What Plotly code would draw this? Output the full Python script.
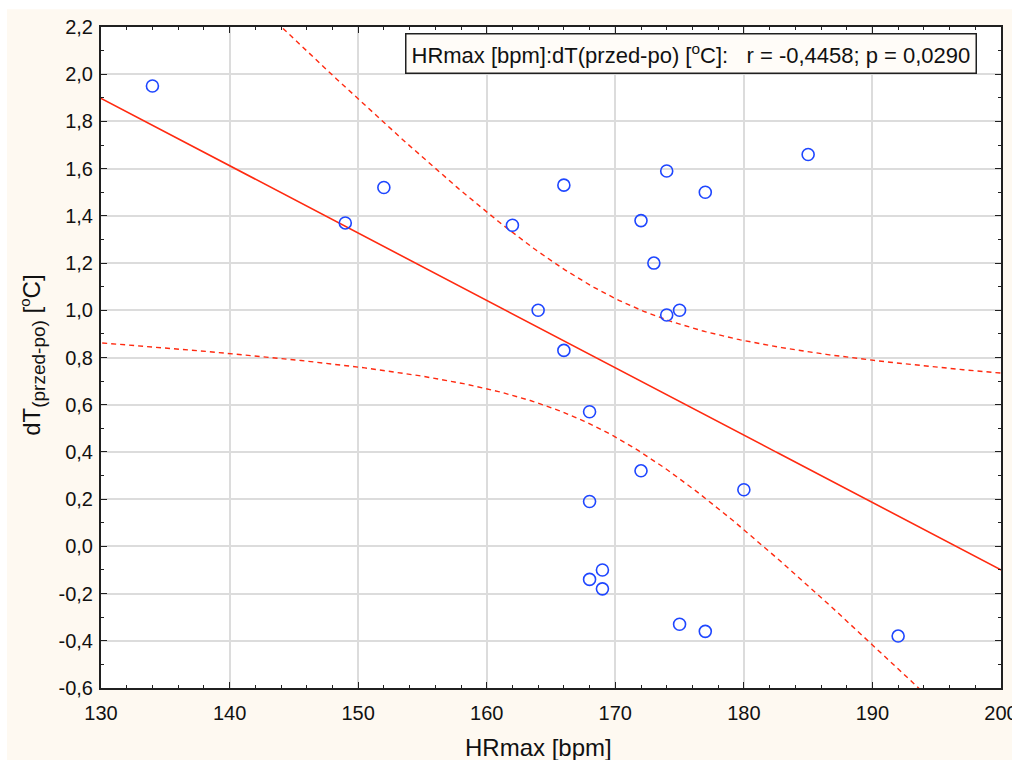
import numpy as np
import plotly.graph_objects as go

# Heart-rate maximum [bpm] and temperature drop dT (before - after) [°C]
hr_max = [134, 149, 152, 162, 164, 166, 166, 168, 168, 168, 169, 169,
          172, 172, 173, 174, 174, 175, 175, 177, 177, 180, 185, 192]
dt_drop = [1.95, 1.37, 1.52, 1.36, 1.00, 1.53, 0.83, 0.57, 0.19, -0.14, -0.10, -0.18,
           1.38, 0.32, 1.20, 1.59, 0.98, 1.00, -0.33, 1.50, -0.36, 0.24, 1.66, -0.38]

x_ticks = [130, 140, 150, 160, 170, 180, 190, 200]
x_ticktext = ["130", "140", "150", "160", "170", "180", "190", "200"]
y_ticks = [-0.6, -0.4, -0.2, 0.0, 0.2, 0.4, 0.6, 0.8, 1.0, 1.2, 1.4, 1.6, 1.8, 2.0, 2.2]
y_ticktext = ["-0,6", "-0,4", "-0,2", "0,0", "0,2", "0,4", "0,6", "0,8",
              "1,0", "1,2", "1,4", "1,6", "1,8", "2,0", "2,2"]

stats_text = "HRmax [bpm]:dT(przed-po) [<sup>o</sup>C]:   r = -0,4458; p = 0,0290"
x_title = "HRmax [bpm]"
y_title = ("dT<sub><span style='font-size:19px'>(przed-po)</span></sub> "
           "[<sup><span style='font-size:15px'>o</span></sup>C]")

# Least-squares fit with 95% confidence band of the mean
x = np.array(hr_max, dtype=float)
y = np.array(dt_drop, dtype=float)
n = len(x)
slope, intercept = np.polyfit(x, y, 1)
resid = y - (slope * x + intercept)
s = np.sqrt(np.sum(resid ** 2) / (n - 2))
sxx = np.sum((x - x.mean()) ** 2)
t_crit = 2.0739  # t(0.975, df=22)
xs = np.linspace(128, 202, 300)
fit = slope * xs + intercept
half = t_crit * s * np.sqrt(1.0 / n + (xs - x.mean()) ** 2 / sxx)

RED = "#FF2A10"
BLUE = "#1E46FF"
CREAM = "#FEF9F1"
TXT = "#111111"
FONT = "Liberation Sans, Arial"

fig = go.Figure()
fig.add_trace(go.Scatter(x=xs, y=fit + half, mode="lines",
                         line=dict(color=RED, width=1.4, dash="5px,4px"), hoverinfo="skip"))
fig.add_trace(go.Scatter(x=xs, y=fit - half, mode="lines",
                         line=dict(color=RED, width=1.4, dash="5px,4px"), hoverinfo="skip"))
fig.add_trace(go.Scatter(x=xs, y=fit, mode="lines",
                         line=dict(color=RED, width=1.6), hoverinfo="skip"))
fig.add_trace(go.Scatter(x=hr_max, y=dt_drop, mode="markers",
                         marker=dict(symbol="circle-open", size=12, color=BLUE,
                                     line=dict(width=1.6, color=BLUE))))

axis_common = dict(
    showline=True, linecolor="#202020", linewidth=2, mirror="ticks",
    ticks="inside", ticklen=6, tickwidth=1.2, tickcolor="#202020",
    showgrid=True, gridcolor="#DCDCDC", gridwidth=1.5, zeroline=False,
    tickfont=dict(family=FONT, size=20, color=TXT),
    ticklabeloverflow="allow", automargin=False,
)

fig.update_xaxes(
    range=[130, 200], tickvals=x_ticks, ticktext=x_ticktext, ticklabelstandoff=6,
    minor=dict(dtick=2, ticks="inside", ticklen=3, tickcolor="#202020", showgrid=False),
    **axis_common,
)
fig.update_yaxes(
    range=[-0.6, 2.2], tickvals=y_ticks, ticktext=y_ticktext, ticklabelstandoff=2,
    minor=dict(dtick=0.1, tick0=0, ticks="inside", ticklen=3, tickcolor="#202020", showgrid=False),
    **axis_common,
)

# axis titles
fig.add_annotation(xref="paper", yref="paper", x=0.4856, y=-0.09,
                   xanchor="center", yanchor="middle", showarrow=False,
                   text=x_title, font=dict(family=FONT, size=24, color=TXT))
fig.add_annotation(xref="paper", yref="paper", x=-0.0756, y=0.504,
                   xanchor="center", yanchor="middle", showarrow=False, textangle=-90,
                   text=y_title, font=dict(family=FONT, size=24, color=TXT))

# correlation summary box
fig.add_annotation(
    xref="paper", yref="paper", x=0.973, y=0.991, xanchor="right", yanchor="top",
    text=stats_text, showarrow=False,
    font=dict(family=FONT, size=22, color=TXT),
    bgcolor="#FFFCF8", bordercolor="#202020", borderwidth=1.5, borderpad=5,
)

# thin white strips along the top and left page edges
fig.add_shape(type="rect", xref="paper", yref="paper", x0=-0.2, x1=1.1, y0=1.027, y1=1.1,
              fillcolor="white", line=dict(width=0), layer="below")
fig.add_shape(type="rect", xref="paper", yref="paper", x0=-0.2, x1=-0.1044, y0=-0.2, y1=1.1,
              fillcolor="white", line=dict(width=0), layer="below")

fig.update_layout(
    width=1012, height=760,
    margin=dict(l=101, r=11, t=27, b=72, autoexpand=False),
    paper_bgcolor=CREAM, plot_bgcolor="white",
    showlegend=False,
)

fig.write_html("out.html")
